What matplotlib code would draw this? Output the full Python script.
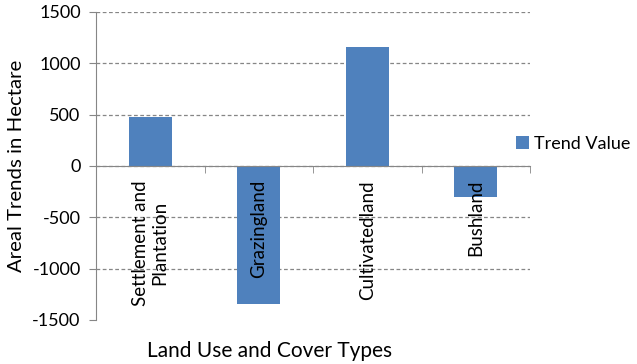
import matplotlib
matplotlib.use('Agg')
import matplotlib.pyplot as plt
import numpy as np
from matplotlib.ticker import FixedLocator

categories = ["Settlement and\nPlantation", "Grazingland", "Cultivatedland", "Bushland"]
trend_values = [477, -1340, 1160, -305]
y_ticks = [-1500, -1000, -500, 0, 500, 1000, 1500]

plt.rcParams['font.family'] = ['Lato', 'DejaVu Sans']
plt.rcParams['axes.unicode_minus'] = False
bar_color = '#4F81BD'
axis_gray = '#868686'

fig = plt.figure(figsize=(6.37, 3.64), dpi=100)
ax = fig.add_axes([96 / 637, 1 - 320 / 364, 434 / 637, 308 / 364])

x = np.arange(len(categories))
# gridlines behind the bars, axis labels in front of them
ax.hlines(y_ticks[1:], -0.5, len(categories) - 0.5, colors=axis_gray,
          linestyles=(0, (3, 2)), linewidth=0.9, zorder=1)
ax.bar(x, trend_values, width=0.4, color=bar_color, label='Trend Value', zorder=2)
ax.set_axisbelow(False)

ax.set_xlim(-0.5, len(categories) - 0.5)
ax.set_ylim(y_ticks[0], y_ticks[-1])
ax.set_yticks(y_ticks)

# x axis sits on the zero line
ax.spines['bottom'].set_position(('data', 0))
ax.spines['bottom'].set_color(axis_gray)
ax.spines['left'].set_color(axis_gray)
ax.spines['top'].set_visible(False)
ax.spines['right'].set_visible(False)

ax.set_xticks(x)
ax.set_xticklabels(categories, rotation=90, va='top', ha='center',
                   multialignment='center', fontsize=13.5)
ax.xaxis.set_minor_locator(FixedLocator(np.arange(len(categories) + 1) - 0.5))
ax.tick_params(axis='x', which='major', length=0, pad=10)
ax.tick_params(axis='x', which='minor', length=5, color=axis_gray, direction='out')
ax.tick_params(axis='y', length=5, color=axis_gray, labelsize=13, pad=6)

ax.set_ylabel("Areal Trends in Hectare", fontsize=14.7)
ax.yaxis.set_label_coords(-0.164, 0.5)
ax.set_xlabel("Land Use and Cover Types", fontsize=15)
ax.xaxis.set_label_coords(0.399, -0.068)

fig.legend(loc='center left', bbox_to_anchor=(516 / 637, 1 - 144 / 364),
           frameon=False, fontsize=13, handlelength=0.7, handleheight=0.7,
           handletextpad=0.3, borderaxespad=0, borderpad=0)

fig.savefig('out.png', dpi=100)
